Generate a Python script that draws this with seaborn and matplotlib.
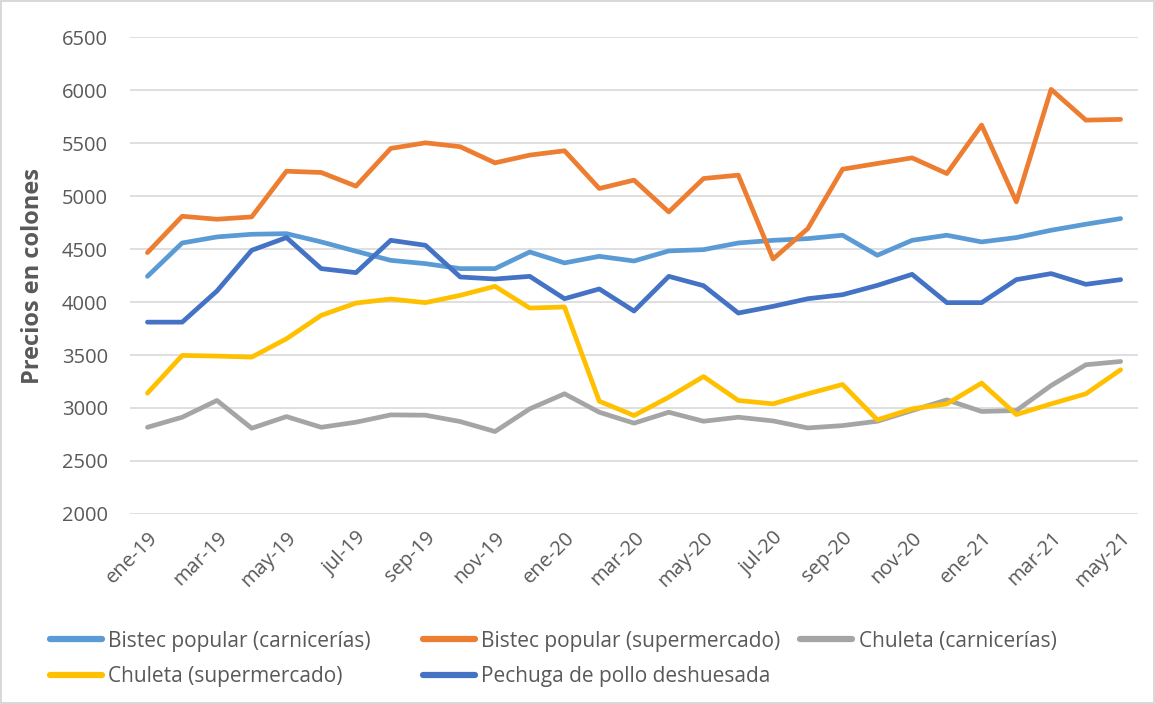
import pandas as pd
import matplotlib.pyplot as plt
import seaborn as sns

# months ene-19 .. may-21
meses = ["ene", "feb", "mar", "abr", "may", "jun", "jul", "ago", "sep", "oct", "nov", "dic"]
periodos = [f"{m}-{a}" for a in ("19", "20", "21") for m in meses][:29]

bistec_carniceria = [4242, 4557, 4614, 4639, 4645, 4567, 4479, 4393, 4362, 4315,
                     4315, 4472, 4369, 4431, 4387, 4482, 4494, 4557, 4582, 4598,
                     4630, 4441, 4582, 4630, 4567, 4608, 4677, 4734, 4787]
bistec_super = [4466, 4809, 4781, 4803, 5234, 5222, 5093, 5449, 5502, 5465,
                5313, 5386, 5427, 5071, 5150, 4850, 5165, 5197, 4406, 4693,
                5253, 5307, 5360, 5212, 5669, 4945, 6006, 5716, 5723]
chuleta_carniceria = [2818, 2913, 3071, 2809, 2919, 2818, 2866, 2935, 2932, 2872,
                      2778, 2992, 3134, 2960, 2857, 2960, 2875, 2913, 2878, 2812,
                      2834, 2875, 2976, 3077, 2967, 2976, 3212, 3408, 3439]
chuleta_super = [3140, 3496, 3490, 3480, 3653, 3874, 3990, 4028, 3994, 4063,
                 4148, 3943, 3953, 3064, 2929, 3102, 3297, 3071, 3039, 3134,
                 3222, 2888, 2992, 3039, 3235, 2938, 3039, 3134, 3361]
pechuga = [3810, 3810, 4104, 4488, 4608, 4315, 4277, 4582, 4535, 4236,
           4217, 4242, 4031, 4123, 3915, 4242, 4154, 3896, 3959, 4031,
           4069, 4157, 4261, 3994, 3994, 4211, 4268, 4167, 4211]

series = {
    "Bistec popular (carnicerías)": bistec_carniceria,
    "Bistec popular (supermercado)": bistec_super,
    "Chuleta (carnicerías)": chuleta_carniceria,
    "Chuleta (supermercado)": chuleta_super,
    "Pechuga de pollo deshuesada": pechuga,
}
colores = ["#5B9BD5", "#ED7D31", "#A5A5A5", "#FFC000", "#4472C4"]

rows = []
for nombre, vals in series.items():
    for i, v in enumerate(vals):
        rows.append({"idx": i, "periodo": periodos[i], "precio": v, "serie": nombre})
df = pd.DataFrame(rows)

sns.set_style("white")
plt.rcParams["font.family"] = ["Open Sans", "DejaVu Sans"]
texto = "#595959"

fig = plt.figure(figsize=(11.55, 7.04), dpi=100)
fig.patch.set_edgecolor("#D9D9D9")
fig.patch.set_linewidth(1.5)
ax = fig.add_axes([0.1126, 0.2699, 0.8727, 0.6775])

sns.lineplot(data=df, x="idx", y="precio", hue="serie", hue_order=list(series.keys()),
             palette=colores, linewidth=3.4, sort=False, ax=ax, legend=True)

ax.set_xlim(-0.5, len(periodos) - 0.5)
ax.set_ylim(2000, 6500)
ax.set_yticks(range(2000, 6501, 500))
ax.set_xticks(range(0, len(periodos), 2))
ax.set_xticklabels(periodos[::2], rotation=45, ha="right", rotation_mode="anchor")
ax.tick_params(axis="both", length=0, labelsize=14.5, colors=texto)
ax.tick_params(axis="x", pad=10)
ax.tick_params(axis="y", pad=16)
ax.grid(axis="y", color="#D9D9D9", linewidth=1.2)
ax.set_axisbelow(True)
for s in ax.spines.values():
    s.set_visible(False)

ax.set_xlabel("")
ax.set_ylabel("Precios en colones", fontsize=17, fontweight="bold", color=texto)
ax.yaxis.set_label_coords(-0.084, 0.5)

# Excel-style legend: three fixed columns, row-major order
handles, labels = ax.get_legend_handles_labels()
ax.get_legend().remove()
columnas = [([0, 3], 0.043), ([1, 4], 0.366), ([2], 0.693)]
for idxs, x0 in columnas:
    leg = fig.legend([handles[i] for i in idxs], [labels[i] for i in idxs],
                     loc="upper left", bbox_to_anchor=(x0, 0.104), ncol=1,
                     frameon=False, fontsize=15, handlelength=2.5, handletextpad=0.3,
                     borderpad=0, borderaxespad=0, labelspacing=0.68)
    for t in leg.get_texts():
        t.set_color(texto)
    for h in leg.get_lines():
        h.set_linewidth(4.5)

fig.savefig("out.png", dpi=100)
